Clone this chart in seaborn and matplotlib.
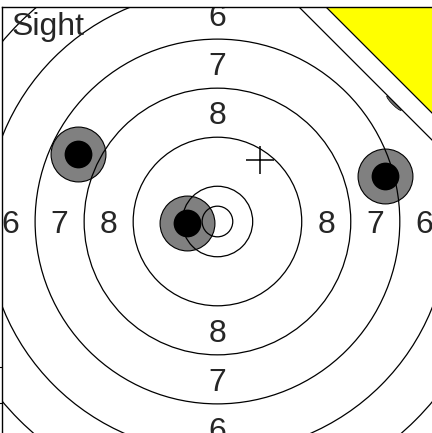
import numpy as np
import pandas as pd
import seaborn as sns
import matplotlib.pyplot as plt
from matplotlib.patches import Circle, Ellipse

# ring radii of the target (mm), inner ten first
ring_radii = [2.5, 5.75, 13.75, 21.75, 29.75, 37.75, 45.75]
# labels written between rings 9/8, 8/7, 7/6
ring_labels = [8, 7, 6]

# shots (mm from centre)
shot_x = [-4.9, -22.8, 27.3]
shot_y = [-0.2, 11.0, 7.4]

# sight mark
sight_x = [7.0]
sight_y = [10.0]

# edge of the card and the yellow corner (x + y = c)
card_edge = 48.3
corner_edge = 52.7

# small tick marks on the left axis
left_ticks = [-23.7, -29.6]

sns.set_style('white')
plt.rcParams['font.family'] = ['Liberation Sans', 'DejaVu Sans']

fig = plt.figure(figsize=(4.32, 4.33), dpi=100)
ax = fig.add_axes([2 / 432, -3.5 / 433, 430.9 / 432, 430 / 433])
ax.set_xlim(-35.15, 35.15)
ax.set_ylim(-35.07, 35.07)

shots = pd.DataFrame({'x': shot_x, 'y': shot_y})

# gray halo of every shot, under the rings
sns.scatterplot(data=shots, x='x', y='y', s=1560, color='#808080',
                edgecolor='black', linewidth=0.8, ax=ax, zorder=1, legend=False)

# rings
for r in ring_radii:
    ax.add_patch(Circle((0, 0), r, fill=False, ec='black', lw=0.9, zorder=2))

# ring numbers on four sides
for i, lab in enumerate(ring_labels):
    r = (ring_radii[i + 2] + ring_radii[i + 3]) / 2
    for px, py in [(-r, 0), (r, 0), (0, r), (0, -r)]:
        ax.text(px, py, str(lab), fontsize=23, ha='center', va='center_baseline',
                zorder=3, clip_on=True)

# black pellet holes
sns.scatterplot(data=shots, x='x', y='y', s=400, color='black',
                edgecolor='black', linewidth=0, ax=ax, zorder=4, legend=False)

# sight cross
ax.plot(sight_x, sight_y, marker='+', markersize=20, mew=1.1, color='black',
        ls='none', zorder=5)

# small mark on the card edge
ax.add_patch(Ellipse((28.8, 19.3), 3.3, 0.6, angle=-45, fc='#707070',
                     ec='black', lw=0.5, zorder=5))

# white band beyond the card edge and yellow corner
ax.fill([card_edge - 40, 40, 40], [40, 40, card_edge - 40], fc='white',
        ec='black', lw=0.9, zorder=6)
ax.fill([corner_edge - 40, 40, 40], [40, 40, corner_edge - 40], fc='#ffff00',
        ec='black', lw=0.9, zorder=7)

ax.text(-33.6, 30.4, 'Sight', fontsize=23, ha='left', va='baseline', zorder=8)

ax.set_xticks([])
ax.set_yticks(left_ticks)
ax.set_yticklabels([])
ax.tick_params(axis='y', left=True, length=2, width=0.8, color='black')
for side in ['right', 'bottom']:
    ax.spines[side].set_visible(False)
for side in ['left', 'top']:
    ax.spines[side].set_color('black')
    ax.spines[side].set_linewidth(1.0)
    ax.spines[side].set_zorder(10)

fig.savefig('out.png', dpi=100)
